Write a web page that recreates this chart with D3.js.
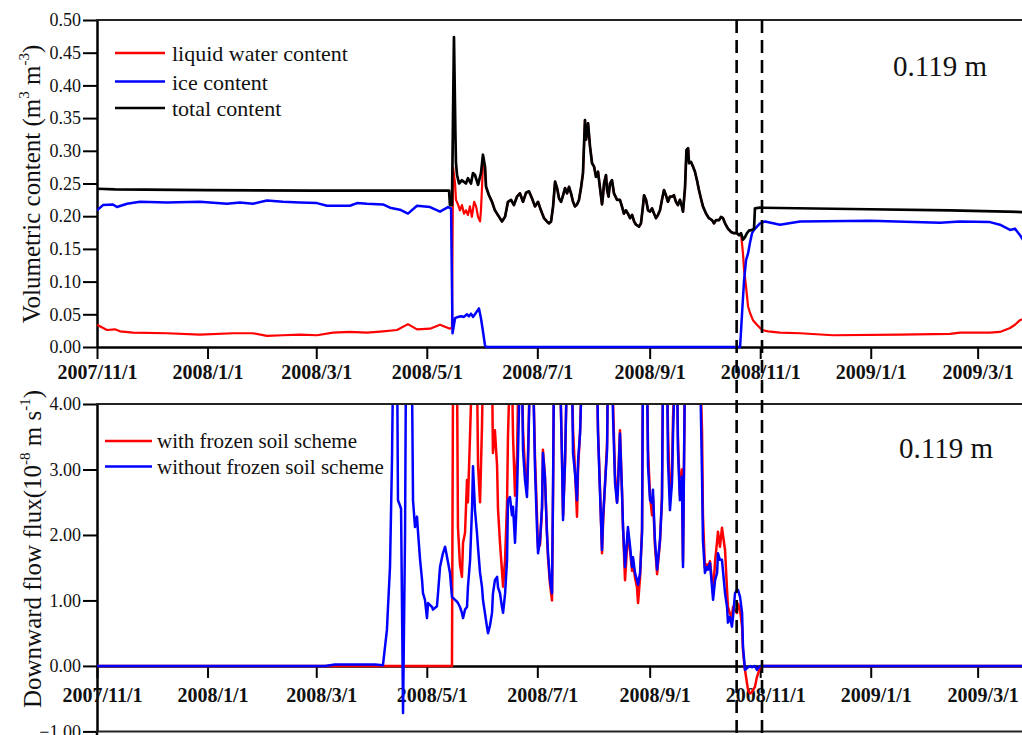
<!DOCTYPE html>
<html><head><meta charset="utf-8">
<script src="https://cdn.jsdelivr.net/npm/d3@7"></script>
<style>body{margin:0;background:#fff}svg{display:block}</style>
</head><body>
<svg id="chart" width="1022" height="735"></svg>
<script>
// ---------------- data ----------------
const START_DATE = "2007-11-01";
const END_DATE = "2009-03-31";
const dateTicks = ["2007-11-01","2008-01-01","2008-03-01","2008-05-01","2008-07-01","2008-09-01","2008-11-01","2009-01-01","2009-03-01"];
const contentTicks = [0,0.05,0.10,0.15,0.20,0.25,0.30,0.35,0.40,0.45,0.50];
const flowTicks = [-1,0,1,2,3,4];
const dashedDates = ["2008-10-19","2008-11-02"];
const depthLabel = "0.119 m";
const contentLegend = ["liquid water content","ice content","total content"];
const flowLegend = ["with frozen soil scheme","without frozen soil scheme"];

// top panel: days since START_DATE and volumetric content (m3 m-3)
const totalDays = [0,10,60,120,194.3,194.8,195.9,197.0,197.8,198.1,198.7,199.8,201.4,203.6,204.7,206.4,207.5,208.6,210.3,211.9,213.0,214.1,214.7,216.3,218.0,219.6,221.9,223.5,225.2,226.8,228.5,230.1,231.8,233.4,235.1,236.8,238.4,240.1,241.7,243.4,245.0,246.7,248.3,249.4,250.6,251.7,252.8,253.9,255.0,256.1,257.2,258.3,259.4,260.5,261.6,262.7,263.8,264.9,266.0,267.1,268.2,269.3,269.9,271.0,272.1,273.2,274.3,275.4,276.5,277.6,278.7,279.2,279.8,280.9,281.5,282.3,283.1,284.2,285.3,287.0,288.6,289.7,290.8,291.9,293.0,294.2,295.3,296.4,297.5,299.1,300.2,301.3,301.9,303.0,304.1,305.2,306.3,307.4,308.5,309.6,310.7,311.8,312.9,314.0,315.1,316.2,317.3,318.4,319.5,320.6,321.7,322.8,323.4,324.5,325.3,326.2,326.7,327.8,328.9,330.0,331.1,332.2,333.3,334.4,336.1,337.7,339.4,340.5,341.6,343.3,344.4,345.5,346.6,348.2,349.9,351.5,353.2,354.3,355.4,356.5,357.6,358.7,359.8,361.5,362.6,363.1,365.9,415.6,470.8,516];
const totalValues = [0.242,0.241,0.240,0.239,0.239,0.217,0.217,0.474,0.324,0.281,0.263,0.250,0.255,0.250,0.258,0.250,0.266,0.263,0.248,0.266,0.294,0.276,0.245,0.232,0.222,0.209,0.199,0.192,0.199,0.222,0.225,0.217,0.230,0.235,0.222,0.236,0.238,0.227,0.215,0.222,0.209,0.197,0.192,0.189,0.192,0.215,0.253,0.243,0.227,0.222,0.232,0.243,0.235,0.245,0.235,0.222,0.215,0.218,0.225,0.243,0.266,0.347,0.317,0.342,0.306,0.281,0.276,0.260,0.268,0.243,0.218,0.230,0.250,0.263,0.240,0.230,0.250,0.255,0.235,0.225,0.225,0.215,0.204,0.209,0.204,0.197,0.202,0.192,0.187,0.184,0.189,0.215,0.232,0.225,0.209,0.207,0.212,0.204,0.197,0.202,0.209,0.225,0.240,0.232,0.222,0.230,0.230,0.232,0.222,0.217,0.225,0.215,0.207,0.243,0.301,0.304,0.281,0.283,0.276,0.268,0.255,0.240,0.227,0.215,0.204,0.197,0.194,0.189,0.194,0.194,0.199,0.197,0.189,0.181,0.176,0.174,0.174,0.171,0.174,0.164,0.168,0.174,0.178,0.179,0.181,0.212,0.213,0.211,0.209,0.206];

const liquidDays = [0,5.5,9.9,12.7,19.9,38.6,56.8,75.1,86.1,93.8,102.6,112.0,121.4,130.2,139.6,149.0,157.8,165.6,171.6,176.6,183.8,189.3,194.8,195.9,196.5,197.6,198.1,199.2,200.3,201.4,202.5,203.6,204.7,205.8,206.9,208.1,209.2,210.3,211.4,211.9,212.5,213.0,355.4,356.5,357.1,358.2,359.3,360.4,362.0,364.2,367.0,370.3,376.9,388.0,406.2,443.2,470.8,476.3,492.8,498.3,503.9,506.6,509.4,516];
const liquidValues = [0.034,0.026,0.027,0.024,0.022,0.021,0.019,0.021,0.021,0.017,0.018,0.019,0.018,0.022,0.023,0.022,0.024,0.026,0.035,0.027,0.028,0.034,0.028,0.030,0.275,0.250,0.225,0.218,0.209,0.217,0.204,0.209,0.202,0.215,0.199,0.222,0.215,0.199,0.192,0.209,0.245,0.281,0.174,0.143,0.118,0.092,0.062,0.052,0.041,0.034,0.026,0.024,0.022,0.021,0.018,0.019,0.020,0.022,0.022,0.023,0.029,0.034,0.041,0.048];

const iceDays = [0,3.3,8.8,11.0,16.6,23.7,38.6,56.8,71.7,78.9,86.1,93.8,102.6,112.0,121.4,126.9,139.6,143.5,149.0,157.8,161.7,167.2,171.6,176.6,183.8,189.3,193.7,195.4,196.2,197.6,199.2,200.9,202.5,204.2,205.3,206.4,207.5,208.6,210.8,211.9,213.0,214.1,214.7,354.9,356.0,357.1,358.2,359.3,360.4,361.5,362.6,364.2,365.9,368.7,376.9,388.0,426.6,465.2,476.3,492.8,498.3,503.9,506.6,509.4,511.0,516];
const iceValues = [0.209,0.217,0.218,0.214,0.219,0.222,0.221,0.222,0.219,0.221,0.219,0.224,0.222,0.221,0.220,0.216,0.216,0.220,0.219,0.218,0.213,0.210,0.204,0.216,0.214,0.207,0.214,0.212,0.021,0.044,0.046,0.047,0.046,0.050,0.047,0.051,0.046,0.050,0.059,0.044,0.024,0.003,0,0,0.052,0.102,0.133,0.143,0.160,0.174,0.179,0.184,0.189,0.192,0.187,0.192,0.193,0.190,0.192,0.191,0.187,0.179,0.181,0.171,0.164,0.158];

// bottom panel: days since START_DATE and downward flow flux (10^-8 m s^-1)
const flowDays = [
 0,125.8,131.3,153.4,157.8,160.0,160.6,161.7,162.8,163.4,
 165.6,166.1,167.2,167.8,168.9,170.0,170.5,172.7,173.8,174.4,
 175.5,176.6,177.2,178.3,179.4,179.9,181.0,182.1,182.7,184.9,
 185.4,187.6,188.2,189.3,190.9,192.1,193.2,194.8,195.9,196.5,
 197.6,198.7,199.2,200.3,201.4,202.0,203.1,204.2,204.7,205.9,
 207.0,207.5,208.6,209.7,210.3,211.4,212.5,213.0,215.2,215.8,
 216.9,218.0,218.5,219.6,220.8,221.3,222.4,223.5,224.1,225.2,
 226.3,226.8,227.9,229.0,229.6,230.7,231.8,232.3,233.4,234.5,
 235.1,236.2,237.3,237.9,239.0,240.6,241.7,242.8,243.4,244.5,
 245.6,246.1,247.2,248.3,248.9,250.0,251.1,251.7,252.2,255.5,
 256.6,257.2,258.3,259.4,262.1,262.7,263.8,264.9,265.5,266.6,
 267.7,275.9,276.5,277.6,278.7,279.3,280.4,281.5,282.0,284.2,
 284.8,285.9,287.0,287.5,288.6,289.7,290.3,291.4,292.5,293.0,
 294.2,295.3,295.8,296.9,298.0,298.6,299.7,300.8,301.3,303.5,
 304.1,305.2,306.3,306.8,307.9,309.1,310.7,311.8,312.4,314.6,
 315.1,316.2,317.3,317.9,319.0,320.1,320.6,321.7,322.8,323.4,
 324.5,332.8,333.9,334.4,335.5,336.6,337.2,338.3,339.4,340.0,
 341.1,342.2,342.7,343.8,344.9,346.6,347.7,348.2,349.3,350.4,
 351.0,352.1,353.2,353.8,354.9,356.0,356.5,357.6,359.3,360.4,
 361.5,362.0,363.1,364.2,365.9,367.5,516];
const flowWithout = [
 0,0,0.02,0.02,0.01,0.55,0.9,1.51,3.14,4.6,
 4.8,2.53,2.45,2.4,-0.72,2.0,4.6,4.8,4.5,2.53,
 2.12,2.28,2.03,1.62,1.31,1.11,1.01,0.73,0.96,0.9,
 0.86,0.91,1.11,1.51,1.72,1.82,1.66,1.42,1.05,1.04,
 1.01,0.98,0.96,0.9,0.81,0.73,0.86,0.9,1.2,1.62,
 2.43,3.05,2.38,2.03,1.8,1.42,1.2,1.01,0.6,0.5,
 0.62,0.81,1.1,1.31,1.36,1.2,1.11,0.9,0.81,1.1,
 1.62,2.53,2.58,2.3,2.43,1.88,2.64,3.19,4.6,4.6,
 3.3,2.84,2.58,3.14,4.6,4.6,3.05,2.12,1.72,1.92,
 2.43,3.25,2.89,2.03,1.72,1.31,1.11,2.79,4.6,4.6,
 3.19,2.23,3.14,4.6,4.6,3.25,2.94,2.53,3.14,3.55,
 4.6,4.6,3.55,2.64,1.77,2.28,2.79,3.3,4.6,4.6,
 3.8,2.79,2.49,2.69,3.55,2.69,2.12,1.51,1.92,2.12,
 1.82,1.51,1.66,1.42,1.31,1.24,1.42,2.03,4.6,4.6,
 3.05,2.53,2.49,2.69,1.92,1.47,1.92,2.53,4.6,4.6,
 3.14,2.38,2.79,3.55,4.6,4.6,3.3,2.53,2.89,1.51,
 4.6,4.6,2.89,1.92,1.42,1.51,1.47,1.57,1.21,1.01,
 1.31,1.42,1.72,1.62,1.62,1.11,0.9,0.66,0.75,0.6,
 0.75,1.11,1.16,1.16,1.05,0.81,0.29,-0.06,-0.02,0,
 -0.02,-0.01,0,-0.06,0,0,0];
const flowWith = [
 0,0,0,0,0,0,0,0,0,0,
 0,0,0,0,0,0,0,0,0,0,
 0,0,0,0,0,0,0,0,0,0,
 0,0,0,0,0,0,0,0,0,4.6,
 4.8,4.5,2.12,1.55,1.36,1.88,2.03,2.84,2.5,3.55,
 4.6,4.8,4.7,4.5,3.05,2.5,3.7,4.6,4.8,4.7,
 4.5,4.6,3.25,3.6,3.05,2.4,1.88,1.45,1.21,1.62,
 2.5,3.5,4.6,4.5,3.5,2.6,3.2,4.0,4.7,4.6,
 3.6,3.0,2.7,3.3,4.6,4.6,3.2,2.3,1.8,1.85,
 2.4,3.3,2.9,2.05,1.65,1.25,1.0,2.7,4.6,4.6,
 3.2,2.3,3.1,4.6,4.6,3.6,3.0,2.28,3.0,3.6,
 4.6,4.6,3.6,2.7,1.72,2.2,2.8,3.4,4.6,4.6,
 4.0,2.9,2.5,2.8,3.6,2.7,2.1,1.31,1.8,2.05,
 1.75,1.45,1.6,1.35,1.2,0.96,1.35,2.1,4.6,4.6,
 3.3,2.6,2.3,2.6,1.85,1.4,1.9,2.6,4.6,4.6,
 3.6,2.6,2.9,3.8,4.6,4.6,3.5,2.6,3.0,1.6,
 4.6,4.6,3.6,2.3,1.5,1.55,1.5,1.6,1.3,1.1,
 1.6,1.9,2.05,1.82,2.11,1.77,1.16,0.9,0.8,0.75,
 0.9,0.85,0.81,0.95,0.85,0.6,0.24,-0.06,-0.37,-0.42,
 -0.40,-0.37,-0.32,-0.17,-0.03,0,0];

// ---------------- drawing ----------------
const FONT = "'Liberation Serif','Times New Roman',Times,serif";
const parse = d3.utcParse("%Y-%m-%d");
const t0 = parse(START_DATE);
const dayToDate = d => new Date(t0.getTime() + d * 864e5);
const pts = (days, vals) => days.map((d, i) => ({date: dayToDate(d), v: vals[i]}));

const svg = d3.select("#chart");
svg.append("rect").attr("width",1022).attr("height",735).attr("fill","#fff");

const x = d3.scaleUtc().domain([parse(START_DATE), parse(END_DATE)]).range([97, 1032]);
const yC = d3.scaleLinear().domain([0, 0.5]).range([347, 20]);
const yF = d3.scaleLinear().domain([-1, 4]).range([731.4, 404]);
const fmtDate = d3.utcFormat("%Y/%-m/%-d");
const tickDates = dateTicks.map(parse);

const defs = svg.append("defs");
defs.append("clipPath").attr("id","clipTop").append("rect")
  .attr("x",97).attr("y",yC(0.5)).attr("width",940).attr("height",yC(0)-yC(0.5)+4);
defs.append("clipPath").attr("id","clipBot").append("rect")
  .attr("x",97).attr("y",yF(4)).attr("width",940).attr("height",yF(-1)-yF(4));

function styleAxis(g, fontSize, bold) {
  g.selectAll(".domain").attr("stroke","#000").attr("stroke-width",2.5);
  g.selectAll(".tick line").attr("stroke","#000").attr("stroke-width",2);
  g.selectAll(".tick text").attr("font-family",FONT).attr("font-size",fontSize)
    .attr("font-weight", bold ? "bold" : "normal").attr("fill","#111");
}

// ---- top panel axes ----
const gyTop = svg.append("g").attr("transform","translate(97,0)")
  .call(d3.axisLeft(yC).tickValues(contentTicks).tickFormat(d3.format(".2f")).tickSize(14).tickSizeOuter(0).tickPadding(2));
styleAxis(gyTop, 18, false);
const gxTop = svg.append("g").attr("transform",`translate(0,${yC(0)})`)
  .call(d3.axisBottom(x).tickValues(tickDates).tickFormat(fmtDate).tickSize(12).tickSizeOuter(0));
styleAxis(gxTop, 20, true);
gxTop.selectAll(".tick text").attr("y",32).attr("dy",null);
svg.append("line").attr("x1",96).attr("x2",1032).attr("y1",yC(0.5)).attr("y2",yC(0.5))
  .attr("stroke","#222").attr("stroke-width",2);

// ---- bottom panel axes ----
const gyBot = svg.append("g").attr("transform","translate(97,0)")
  .call(d3.axisLeft(yF).tickValues(flowTicks).tickFormat(d3.format(".2f")).tickSize(14).tickSizeOuter(0).tickPadding(2));
styleAxis(gyBot, 18, false);
svg.append("line").attr("x1",97).attr("x2",97).attr("y1",yF(-1)).attr("y2",735)
  .attr("stroke","#000").attr("stroke-width",2.5);
const gxBot = svg.append("g").attr("transform",`translate(0,${yF(0)})`)
  .call(d3.axisBottom(x).tickValues(tickDates).tickFormat(fmtDate).tickSize(12).tickSizeOuter(0));
styleAxis(gxBot, 20, true);
gxBot.selectAll(".tick text").attr("y",36).attr("dy",null).attr("dx",5);
svg.append("line").attr("x1",96).attr("x2",1032).attr("y1",yF(-1)).attr("y2",yF(-1))
  .attr("stroke","#222").attr("stroke-width",2);

// ---- top panel lines ----
const lineC = d3.line().x(d => x(d.date)).y(d => yC(d.v));
const totalPts = pts(totalDays, totalValues);
const liqRaw = pts(liquidDays, liquidValues);
const thawEnd = 213.0, freezeStart = 355.4; // ice = 0 between these: liquid equals total
const liquidPts = liqRaw.filter((p, i) => liquidDays[i] <= thawEnd)
  .concat(totalPts.filter((p, i) => totalDays[i] > thawEnd && totalDays[i] < freezeStart))
  .concat(liqRaw.filter((p, i) => liquidDays[i] >= freezeStart));
const icePts = pts(iceDays, iceValues);
const gTop = svg.append("g").attr("clip-path","url(#clipTop)");
[[liquidPts,"#ff0000",2.2],[icePts,"#0000ff",2.5],[totalPts,"#000000",2.7]].forEach(([data,color,w]) => {
  gTop.append("path").datum(data).attr("d",lineC).attr("fill","none")
    .attr("stroke",color).attr("stroke-width",w).attr("stroke-linejoin","round");
});

// ---- bottom panel lines ----
const lineF = d3.line().x(d => x(d.date)).y(d => yF(d.v));
const gBot = svg.append("g").attr("clip-path","url(#clipBot)");
[[pts(flowDays, flowWith),"#ff0000"],[pts(flowDays, flowWithout),"#0000ff"]].forEach(([data,color]) => {
  gBot.append("path").datum(data).attr("d",lineF).attr("fill","none")
    .attr("stroke",color).attr("stroke-width",2.5).attr("stroke-linejoin","round");
});
svg.append("line").attr("x1",96).attr("x2",1032).attr("y1",yF(4)).attr("y2",yF(4))
  .attr("stroke","#222").attr("stroke-width",2);

// ---- dashed markers ----
dashedDates.forEach(ds => {
  const xx = x(parse(ds));
  svg.append("line").attr("x1",xx).attr("x2",xx).attr("y1",yC(0.5)).attr("y2",735)
    .attr("stroke","#000").attr("stroke-width",2.6).attr("stroke-dasharray","13,7");
});

// ---- legends ----
const legC = svg.append("g");
[["#ff0000",53],["#0000ff",81.5],["#000000",108]].forEach(([c, yy], i) => {
  legC.append("line").attr("x1",115).attr("x2",165).attr("y1",yy).attr("y2",yy).attr("stroke",c).attr("stroke-width",2.5);
  legC.append("text").attr("x",172).attr("y",yy+8).attr("font-family",FONT).attr("font-size",22).attr("fill","#111").text(contentLegend[i]);
});
const legF = svg.append("g");
[["#ff0000",441],["#0000ff",466.5]].forEach(([c, yy], i) => {
  legF.append("line").attr("x1",105).attr("x2",152).attr("y1",yy).attr("y2",yy).attr("stroke",c).attr("stroke-width",2.5);
  legF.append("text").attr("x",157).attr("y",yy+7).attr("font-family",FONT).attr("font-size",21).attr("fill","#111").text(flowLegend[i]);
});

// ---- depth labels ----
svg.append("text").attr("x",893).attr("y",76).attr("font-family",FONT).attr("font-size",29).attr("fill","#111").text(depthLabel);
svg.append("text").attr("x",899).attr("y",458).attr("font-family",FONT).attr("font-size",29).attr("fill","#111").text(depthLabel);

// ---- axis titles ----
function title(cx, cy, parts) {
  const t = svg.append("text").attr("transform",`translate(${cx},${cy}) rotate(-90)`)
    .attr("text-anchor","middle").attr("font-family",FONT).attr("font-size",25).attr("fill","#111");
  parts.forEach(([s, sup]) => {
    const sp = t.append("tspan").text(s);
    if (sup === 1) sp.attr("font-size",15).attr("dy",-11);
    if (sup === -1) sp.attr("dy",11);
  });
}
title(40, 184, [["Volumetric content (m"],["3",1],[" m",-1],["-3",1],[")",-1]]);
title(41, 549, [["Downward flow flux(10"],["-8",1],[" m s",-1],["-1",1],[")",-1]]);
</script>
</body></html>
